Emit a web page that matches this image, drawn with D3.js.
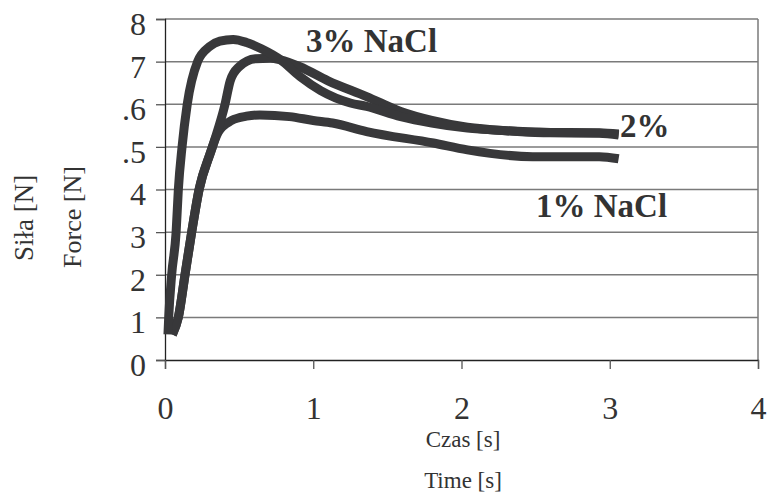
<!DOCTYPE html>
<html>
<head>
<meta charset="utf-8">
<script src="https://cdn.jsdelivr.net/npm/d3@7"></script>
<style>
  body { margin: 0; background: #fff; }
  svg { display: block; }
  text { font-family: "Liberation Serif", "DejaVu Serif", serif; fill: #333; }
</style>
</head>
<body>
<script>
'use strict';

// tick labels (as printed on the original figure)
const xTicks = [0, 1, 2, 3, 4];
const yTicks = [0, 1, 2, 3, 4, 5, 6, 7, 8];
const yTickLabels = ["0", "1", "2", "3", "4", ".5", ".6", "7", "8"];

// 3% NaCl
const t3 = [0.02, 0.025, 0.045, 0.075, 0.09, 0.115, 0.15, 0.22, 0.3, 0.37, 0.46, 0.55, 0.65, 0.78, 0.91, 1.05, 1.25, 1.36, 1.59, 1.8, 2.04, 2.3, 2.6, 2.93, 3.06];
const f3 = [0.6, 1.0, 2.0, 3.0, 4.0, 5.0, 6.0, 7.0, 7.35, 7.48, 7.52, 7.45, 7.3, 7.04, 6.65, 6.32, 6.03, 5.95, 5.71, 5.56, 5.44, 5.38, 5.33, 5.32, 5.28];

// 2% NaCl
const t2 = [0.05, 0.09, 0.135, 0.18, 0.23, 0.32, 0.405, 0.44, 0.5, 0.61, 0.71, 0.78, 0.91, 1.1, 1.36, 1.59, 1.8, 2.04, 2.3, 2.6, 2.93, 3.06];
const f2 = [0.6, 1.0, 2.0, 3.0, 4.0, 5.0, 6.0, 6.55, 6.88, 7.07, 7.08, 7.04, 6.88, 6.55, 6.18, 5.83, 5.62, 5.46, 5.38, 5.34, 5.33, 5.3];

// 1% NaCl
const t1 = [0.05, 0.09, 0.135, 0.18, 0.23, 0.3, 0.36, 0.45, 0.55, 0.64, 0.84, 1.0, 1.13, 1.36, 1.81, 2.04, 2.48, 2.93, 3.06];
const f1 = [0.6, 1.0, 2.0, 3.0, 4.0, 4.8, 5.35, 5.62, 5.72, 5.75, 5.71, 5.62, 5.56, 5.36, 5.09, 4.93, 4.77, 4.77, 4.72];

const W = 768, H = 496;
const plot = { left: 165, right: 758, top: 19, bottom: 360 };
const lineColor = "#38383a";

const svg = d3.select("body").append("svg")
    .attr("width", W)
    .attr("height", H);

const x = d3.scaleLinear().domain([0, 4]).range([plot.left, plot.right]);
const y = d3.scaleLinear().domain([0, 8]).range([plot.bottom, plot.top]);

// horizontal grid lines
svg.append("g")
    .selectAll("line")
    .data(yTicks.filter(d => d > 0))
    .enter()
    .append("line")
    .attr("x1", plot.left)
    .attr("x2", plot.right)
    .attr("y1", d => y(d))
    .attr("y2", d => y(d))
    .attr("stroke", "#7a7a7a")
    .attr("stroke-width", 1.5);

// right border
svg.append("line")
    .attr("x1", plot.right).attr("x2", plot.right)
    .attr("y1", plot.top).attr("y2", plot.bottom)
    .attr("stroke", "#7a7a7a")
    .attr("stroke-width", 1.5);

// y axis
const yAxis = d3.axisLeft(y)
    .tickValues(yTicks)
    .tickSize(9)
    .tickPadding(10)
    .tickFormat((d, i) => yTickLabels[i]);
const gy = svg.append("g")
    .attr("transform", "translate(" + plot.left + ",0)")
    .call(yAxis);

// x axis
const xAxis = d3.axisBottom(x)
    .tickValues(xTicks)
    .tickSize(9)
    .tickPadding(27)
    .tickFormat(d3.format("d"));
const gx = svg.append("g")
    .attr("transform", "translate(0," + plot.bottom + ")")
    .call(xAxis);

[gx, gy].forEach(g => {
    g.select(".domain").attr("stroke", "#222").attr("stroke-width", 1.3);
    g.selectAll(".tick line").attr("stroke", "#555").attr("stroke-width", 1.3);
    g.selectAll(".tick text")
        .style("font-family", "'Liberation Serif', serif")
        .style("font-size", "32px")
        .attr("fill", "#333");
});
gy.selectAll(".tick text").attr("dy", "0.48em");

// curves
const series = [
    { t: t1, f: f1 },
    { t: t2, f: f2 },
    { t: t3, f: f3 }
];

const line = d3.line()
    .x(d => x(d[0]))
    .y(d => y(d[1]))
    .curve(d3.curveMonotoneX);

series.forEach(s => {
    svg.append("path")
        .datum(s.t.map((t, i) => [t, s.f[i]]))
        .attr("fill", "none")
        .attr("stroke", lineColor)
        .attr("stroke-width", 9)
        .attr("stroke-linejoin", "round")
        .attr("d", line);
});

// series labels
svg.append("text")
    .attr("x", 306).attr("y", 52)
    .style("font-size", "33px")
    .style("font-weight", "bold")
    .text("3% NaCl");

svg.append("text")
    .attr("x", 620).attr("y", 137)
    .style("font-size", "33px")
    .style("font-weight", "bold")
    .text("2%");

svg.append("text")
    .attr("x", 536).attr("y", 217)
    .style("font-size", "33px")
    .style("font-weight", "bold")
    .text("1% NaCl");

// axis titles
svg.append("text")
    .attr("x", 463).attr("y", 447)
    .attr("text-anchor", "middle")
    .style("font-size", "23px")
    .text("Czas [s]");

svg.append("text")
    .attr("x", 463).attr("y", 488)
    .attr("text-anchor", "middle")
    .style("font-size", "23px")
    .text("Time [s]");

svg.append("text")
    .attr("transform", "translate(33,218)rotate(-90)")
    .attr("text-anchor", "middle")
    .style("font-size", "27px")
    .text("Siła [N]");

svg.append("text")
    .attr("transform", "translate(81,217)rotate(-90)")
    .attr("text-anchor", "middle")
    .style("font-size", "26px")
    .text("Force [N]");
</script>
</body>
</html>
